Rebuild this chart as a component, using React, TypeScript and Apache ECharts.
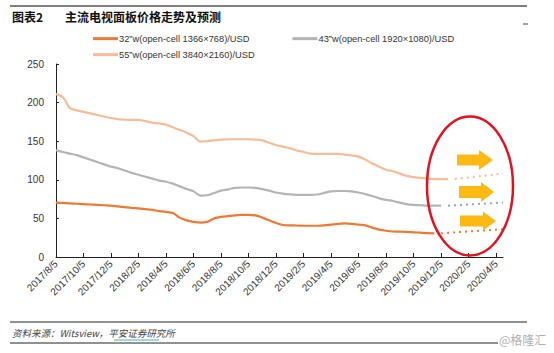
import React, { useEffect, useRef } from "react";
import * as echarts from "echarts";

const categories: string[] = [
  "2017/8/5", "2017/8/20", "2017/9/5", "2017/9/20", "2017/10/5", "2017/10/20", "2017/11/5", "2017/11/20", "2017/12/5", "2017/12/20",
  "2018/1/5", "2018/1/20", "2018/2/5", "2018/2/20", "2018/3/5", "2018/3/20", "2018/4/5", "2018/4/20", "2018/5/5", "2018/5/20",
  "2018/6/5", "2018/6/20", "2018/7/5", "2018/7/20", "2018/8/5", "2018/8/20", "2018/9/5", "2018/9/20", "2018/10/5", "2018/10/20",
  "2018/11/5", "2018/11/20", "2018/12/5", "2018/12/20",
  "2019/1/5", "2019/1/20", "2019/2/5", "2019/2/20", "2019/3/5", "2019/3/20", "2019/4/5", "2019/4/20", "2019/5/5", "2019/5/20",
  "2019/6/5", "2019/6/20", "2019/7/5", "2019/7/20", "2019/8/5", "2019/8/20", "2019/9/5", "2019/9/20", "2019/10/5", "2019/10/20",
  "2019/11/5", "2019/11/20", "2019/12/5", "2019/12/20",
  "2020/1/5", "2020/1/20", "2020/2/5", "2020/2/20", "2020/3/5", "2020/3/20", "2020/4/5", "2020/4/20",
];

const name32 = "32\u201dw(open-cell 1366\u00d7768)/USD";
const name43 = "43\u201dw(open-cell 1920\u00d71080)/USD";
const name55 = "55\u201dw(open-cell 3840\u00d72160)/USD";

// actual prices (half-monthly), starting 2017/8/5
const values32: number[] = [
  70.5, 70, 69.5, 69, 68.5, 68, 67.5, 67, 66.5, 65.5,
  64.5, 63.5, 63, 62, 61, 59.5, 58.5, 57, 51, 47.5,
  45.5, 44.5, 45.5, 50, 52, 53, 54, 54.5, 54.5, 54,
  51, 47.5, 44, 41.5, 41, 40.8, 40.5, 40.5, 40.5, 41,
  42, 43, 43.5, 43, 42, 41, 38, 35.5, 34, 33,
  32.8, 32.5, 32, 31.5, 31, 30.7,
];
const values43: number[] = [
  138.5, 136, 134, 132, 129, 126, 123, 120, 117, 115,
  112, 109, 106.5, 104, 101.5, 99, 97.5, 95, 91.5, 88,
  85, 79.5, 80, 83, 86, 87.5, 89.5, 90, 90, 89.5,
  88, 86, 83.5, 82, 81, 80.5, 80.5, 80.5, 81, 83,
  85, 85.5, 85.5, 85, 83.5, 81.5, 79, 76, 74, 72.5,
  70.5, 68.5, 67.5, 67, 66.5, 66.5, 66.5,
];
const values55: number[] = [
  211, 207, 193, 190, 188, 186, 184, 182, 180, 178.5,
  178, 177.5, 177.5, 176, 174, 173, 171.5, 168, 164.5, 161,
  156.5, 149.5, 150, 151, 152, 152.5, 152.5, 152.5, 152.5, 152,
  151, 148, 145, 143, 141, 138, 136, 134, 133.5, 133.5,
  133.5, 133.5, 132.5, 131.5, 130, 126, 121, 117, 113, 111,
  108, 105, 103.5, 102.5, 101.5, 101, 101, 101,
];

// forecast (dotted): start value at end of actual, end value at 2020/4/20
const forecast32: number[] = [30.7, 36];
const forecast43: number[] = [66.5, 70.5];
const forecast55: number[] = [101, 108];

const yTicks = { min: 0, max: 250, interval: 50 };

function padSeries(vals: number[]): (number | null)[] {
  const out: (number | null)[] = categories.map(() => null);
  vals.forEach((v, i) => (out[i] = v));
  return out;
}
function forecastSeries(startIdx: number, vals: number[]): (number | null)[] {
  const out: (number | null)[] = categories.map(() => null);
  out[startIdx] = vals[0];
  out[categories.length - 1] = vals[1];
  return out;
}

const C32 = "#EC7A35";
const C43 = "#B4B4B4";
const C55 = "#F6BC98";

const FONT = "'Liberation Sans', Arial, 'Noto Sans CJK SC', sans-serif";
const CJK = "'Noto Sans CJK SC', 'Liberation Sans', sans-serif";

function arrow(x0: number, x1: number, xt: number, cy: number, bh: number, hh: number) {
  return {
    type: "polygon",
    shape: {
      points: [
        [x0, cy - bh],
        [x1, cy - bh],
        [x1, cy - hh],
        [xt, cy],
        [x1, cy + hh],
        [x1, cy + bh],
        [x0, cy + bh],
      ],
    },
    style: { fill: "#FDB913" },
    z: 20,
  };
}

export default function App() {
  const ref = useRef<HTMLDivElement>(null);
  useEffect(() => {
    if (!ref.current) return;
    const chart = echarts.init(ref.current, undefined, { renderer: "svg" });
    const dotted = (name: string, color: string, startIdx: number, vals: number[]) => ({
      name,
      type: "line",
      data: forecastSeries(startIdx, vals),
      connectNulls: true,
      showSymbol: false,
      symbol: "none",
      lineStyle: { color, width: 2, type: [2, 4] },
      z: 3,
    });
    const legendText = { fontSize: 9.3, color: "#333", fontFamily: FONT, padding: [0, 0, 0, -4] };
    chart.setOption({
      animation: false,
      backgroundColor: "#ffffff",
      textStyle: { fontFamily: FONT },
      grid: { left: 56, right: 51, top: 64, bottom: 96, containLabel: false },
      legend: [
        {
          data: [name32, name43],
          left: 88,
          top: 29,
          itemWidth: 25,
          itemHeight: 3,
          itemGap: 43,
          icon: "rect",
          textStyle: legendText,
          selectedMode: false,
        },
        {
          data: [name55],
          left: 88,
          top: 45,
          itemWidth: 25,
          itemHeight: 3,
          icon: "rect",
          textStyle: legendText,
          selectedMode: false,
        },
      ],
      xAxis: {
        type: "category",
        data: categories,
        boundaryGap: false,
        axisLine: { lineStyle: { color: "#222", width: 1 } },
        axisTick: { inside: true, length: 4, interval: 3, lineStyle: { color: "#222" } },
        axisLabel: {
          interval: 3,
          rotate: 45,
          fontSize: 10,
          color: "#333",
          margin: 5,
          fontFamily: FONT,
        },
        splitLine: { show: false },
      },
      yAxis: {
        type: "value",
        min: yTicks.min,
        max: yTicks.max,
        interval: yTicks.interval,
        axisLine: { show: true, lineStyle: { color: "#222", width: 1 } },
        axisTick: { show: true, inside: true, length: 3, lineStyle: { color: "#222" } },
        axisLabel: { fontSize: 10, color: "#333", margin: 12, fontFamily: FONT },
        splitLine: { show: false },
      },
      series: [
        {
          name: name32,
          type: "line",
          data: padSeries(values32),
          showSymbol: false,
          symbol: "none",
          smooth: 0.3,
          lineStyle: { color: C32, width: 2.2 },
          itemStyle: { color: C32 },
          z: 4,
        },
        {
          name: name43,
          type: "line",
          data: padSeries(values43),
          showSymbol: false,
          symbol: "none",
          smooth: 0.3,
          lineStyle: { color: C43, width: 2.2 },
          itemStyle: { color: C43 },
          z: 4,
        },
        {
          name: name55,
          type: "line",
          data: padSeries(values55),
          showSymbol: false,
          symbol: "none",
          smooth: 0.3,
          lineStyle: { color: C55, width: 2.2 },
          itemStyle: { color: C55 },
          z: 4,
        },
        dotted("f32", "#EE7D36", values32.length, forecast32),
        dotted("f43", "#9AA3BE", values43.length, forecast43),
        dotted("f55", "#F6BC98", values55.length, forecast55),
      ],
      graphic: [
        { type: "line", shape: { x1: 10, y1: 6, x2: 527, y2: 6 }, style: { stroke: "#555", lineWidth: 1.5 } },
        { type: "line", shape: { x1: 523, y1: 24, x2: 528, y2: 24 }, style: { stroke: "#444", lineWidth: 1 } },
        {
          type: "text",
          left: 12,
          top: 10,
          style: { text: "图表2", font: `bold 12px ${CJK}`, fill: "#111" },
        },
        {
          type: "text",
          left: 65,
          top: 10,
          style: { text: "主流电视面板价格走势及预测", font: `bold 12px ${CJK}`, fill: "#111" },
        },
        {
          type: "ellipse",
          shape: { cx: 470, cy: 186, rx: 43, ry: 69.5 },
          style: { fill: "none", stroke: "#E3101E", lineWidth: 2.5 },
          z: 20,
        },
        arrow(457, 479, 493, 160, 5.5, 10),
        arrow(459, 481, 494, 192, 6, 10),
        arrow(460, 483, 496, 221, 5.5, 9.5),
        { type: "line", shape: { x1: 10, y1: 322, x2: 527, y2: 322 }, style: { stroke: "#222", lineWidth: 1 } },
        {
          type: "text",
          left: 12,
          top: 328,
          style: { text: "资料来源：Witsview，平安证券研究所", font: `italic 9.5px ${CJK}`, fill: "#444" },
        },
        { type: "line", shape: { x1: 114, y1: 340, x2: 159, y2: 340 }, style: { stroke: "#4AA8B8", lineWidth: 1 } },
        { type: "line", shape: { x1: 10, y1: 343, x2: 498, y2: 343 }, style: { stroke: "#222", lineWidth: 1 } },
        {
          type: "text",
          left: 499,
          top: 333,
          style: { text: "@格隆汇", font: `12px ${CJK}`, fill: "#B0B0B0" },
        },
      ],
    });
    return () => chart.dispose();
  }, []);
  return (
    <div
      ref={ref}
      style={{ position: "fixed", left: 0, top: 0, width: 554, height: 353, background: "#fff" }}
    />
  );
}
